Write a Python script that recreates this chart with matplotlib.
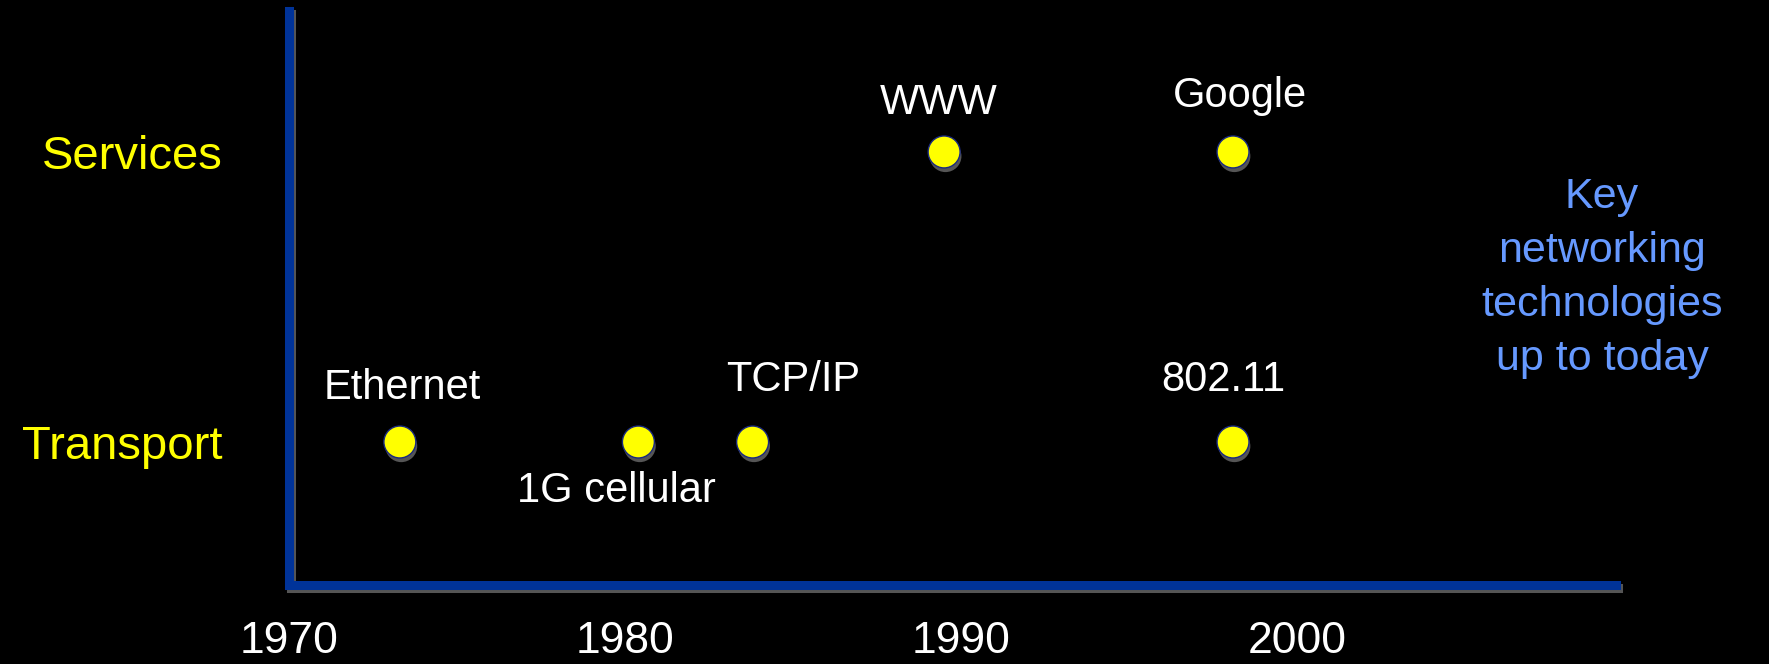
import matplotlib
matplotlib.use("Agg")
import matplotlib.pyplot as plt
import matplotlib.patheffects as pe

# Data
tech_names = ["Ethernet", "1G cellular", "TCP/IP", "WWW", "802.11", "Google"]
tech_years = [1973.3, 1980.4, 1983.8, 1989.5, 1998.1, 1998.1]
tech_layer = [1, 1, 1, 2, 1, 2]
layer_labels = ["Transport", "Services"]
year_ticks = [1970, 1980, 1990, 2000]

# label offsets (points) relative to each dot
label_offsets = [(2, 39), (-16, -35), (29, 45), (-4, 35), (-7, 45), (5, 40)]

plt.rcParams["font.family"] = ["Liberation Sans", "DejaVu Sans"]

fig = plt.figure(figsize=(17.69, 6.64), dpi=100, facecolor="black")
ax = fig.add_axes([289 / 1769, 1 - 585 / 664, (1616 - 289) / 1769, (585 - 11) / 664])
ax.set_facecolor("black")

ax.set_xlim(1970, 2009.5)
ax.set_ylim(0.507, 2.486)

shadow = [pe.SimpleLineShadow(offset=(1.5, -2.5), shadow_color="#555555", alpha=1), pe.Normal()]
for side in ["top", "right"]:
    ax.spines[side].set_visible(False)
for side in ["left", "bottom"]:
    ax.spines[side].set_color("#003399")
    ax.spines[side].set_linewidth(6.5)
    ax.spines[side].set_path_effects(shadow)

# Dots
ax.plot(tech_years, tech_layer, linestyle="none", marker="o", markersize=23,
        markerfacecolor="#ffff00", markeredgecolor="#1a2a80", markeredgewidth=1,
        clip_on=False,
        path_effects=[pe.SimplePatchShadow(offset=(1, -3), shadow_rgbFace="#555555", alpha=1), pe.Normal()])

for name, yr, lay, off in zip(tech_names, tech_years, tech_layer, label_offsets):
    ax.annotate(name, (yr, lay), xytext=off, textcoords="offset points",
                ha="center", va="center", color="white", fontsize=30)

ax.set_xticks(year_ticks)
ax.set_xticklabels([str(y) for y in year_ticks], color="white", fontsize=32)
ax.set_yticks([1, 2])
ax.set_yticklabels(layer_labels, color="#ffff00", fontsize=34)
ax.tick_params(axis="x", length=0, pad=26)
ax.tick_params(axis="y", length=0, pad=48)

fig.text(1602 / 1769, 1 - 278 / 664, "Key\nnetworking\ntechnologies\nup to today",
         ha="center", va="center", color="#6699ff", fontsize=31, linespacing=1.45)

fig.savefig("out.png", dpi=100, facecolor="black")
